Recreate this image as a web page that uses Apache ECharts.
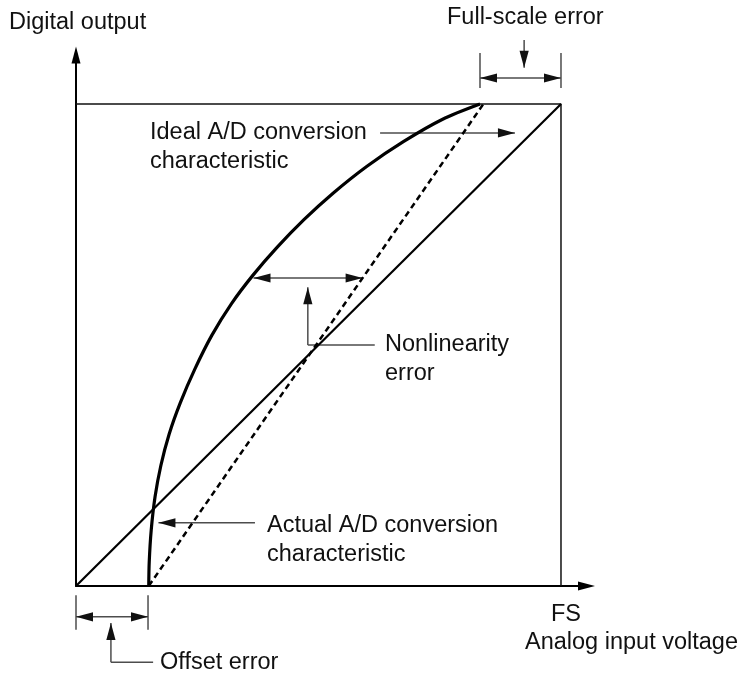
<!DOCTYPE html>
<html>
<head>
<meta charset="utf-8">
<script src="https://cdn.jsdelivr.net/npm/echarts@6/dist/echarts.min.js"></script>
<style>
  html, body { margin: 0; padding: 0; background: #ffffff; }
  #chart { width: 744px; height: 677px; }
</style>
</head>
<body>
<div id="chart"></div>
<script>
// Analog input in percent of full scale (FS = 100), digital output in percent of full code.
const idealInput = [0, 100];
const idealOutput = [0, 100];

// Real converter transfer curve: starts late (offset) and bows upward (nonlinearity)
const actualInput = [15, 15.1, 15.5, 16.3, 17.5, 19.2, 21.5, 24.5, 28.0, 32.0, 36.5, 41.5, 47.0, 53.0, 60.0, 67.5, 75.5, 83.3];
const actualOutput = [0, 5, 11.5, 18.5, 25, 31.5, 38, 45, 52, 58.5, 64.5, 70.3, 76.0, 81.5, 87.1, 92.2, 96.8, 100];

// Straight line through the actual end points
const endPointInput = [15, 84];
const endPointOutput = [0, 100];

// Full-scale frame (top code level and FS input)
const frameInput = [0, 100, 100];
const frameOutput = [100, 100, 0];

const xTickValues = [100];
const xTickLabels = ['FS'];

const zip = (xs, ys) => xs.map((x, i) => [x, ys[i]]);

// Dimension arrows and leader lines: [x1, y1, x2, y2, headAtStart, headAtEnd]
const annotationArrows = [
  [62.7, 94.0, 90.5, 94.0, 0, 1],     // ideal characteristic pointer
  [36.9, 13.1, 17.0, 13.1, 0, 1],     // actual characteristic pointer
  [36.6, 63.9, 59.1, 63.9, 1, 1],     // nonlinearity span
  [47.8, 50.0, 47.8, 62.0, 0, 1],     // nonlinearity leader (up)
  [47.8, 50.0, 61.6, 50.0, 0, 0],     // nonlinearity leader (to text)
  [83.3, 110.6, 83.3, 103.3, 0, 0],   // full-scale extension line
  [100, 110.6, 100, 103.3, 0, 0],     // full-scale extension line
  [83.3, 105.4, 100, 105.4, 1, 1],    // full-scale span
  [92.4, 113.3, 92.4, 107.5, 0, 1],   // full-scale pointer (down)
  [0, -1.9, 0, -9.1, 0, 0],           // offset extension line
  [14.85, -1.9, 14.85, -9.1, 0, 0],   // offset extension line
  [0, -6.4, 14.85, -6.4, 1, 1],       // offset span
  [7.2, -15.8, 7.2, -7.7, 0, 1],      // offset leader (up)
  [7.2, -15.8, 15.9, -15.8, 0, 0]     // offset leader (to text)
];

const FONT = '23.5px "Liberation Sans", Arial, Helvetica, sans-serif';
const TEXT_COLOR = '#111111';

function textBlock(text, x, y) {
  return {
    type: 'text', x: x, y: y, silent: true,
    style: { text: text, fill: TEXT_COLOR, font: FONT, lineHeight: 29, align: 'left', verticalAlign: 'top' }
  };
}

function renderArrow(params, api) {
  const p1 = api.coord([api.value(0), api.value(1)]);
  const p2 = api.coord([api.value(2), api.value(3)]);
  const headStart = api.value(4);
  const headEnd = api.value(5);
  const dx = p2[0] - p1[0], dy = p2[1] - p1[1];
  const len = Math.sqrt(dx * dx + dy * dy) || 1;
  const ux = dx / len, uy = dy / len;
  const HL = 17, HW = 4.6;
  const head = (tip, dirX, dirY) => ({
    type: 'polygon',
    shape: { points: [
      [tip[0], tip[1]],
      [tip[0] - dirX * HL - dirY * HW, tip[1] - dirY * HL + dirX * HW],
      [tip[0] - dirX * HL + dirY * HW, tip[1] - dirY * HL - dirX * HW]
    ] },
    style: { fill: '#111111' }
  });
  const children = [{
    type: 'line',
    shape: { x1: p1[0], y1: p1[1], x2: p2[0], y2: p2[1] },
    style: { stroke: '#4d4d4d', lineWidth: 1.5 }
  }];
  if (headStart) children.push(head(p1, -ux, -uy));
  if (headEnd) children.push(head(p2, ux, uy));
  return { type: 'group', children: children };
}

const chart = echarts.init(document.getElementById('chart'), null, { renderer: 'canvas' });

chart.setOption({
  animation: false,
  backgroundColor: '#ffffff',
  grid: { left: 76, right: 157.5, top: 55, bottom: 91, containLabel: false },
  xAxis: {
    type: 'value', min: 0, max: 105.26, interval: 100,
    splitLine: { show: false }, axisTick: { show: false },
    axisLine: { onZero: false, lineStyle: { color: '#000000', width: 2 }, symbol: ['none', 'triangle'], symbolSize: [9, 17] },
    axisLabel: {
      margin: 17, color: TEXT_COLOR, fontSize: 23.5, fontFamily: '"Liberation Sans", Arial, sans-serif',
      padding: [0, 0, 0, 10],
      formatter: v => { const i = xTickValues.indexOf(v); return i >= 0 ? xTickLabels[i] : ''; }
    }
  },
  yAxis: {
    type: 'value', min: 0, max: 110.17,
    splitLine: { show: false }, axisTick: { show: false }, axisLabel: { show: false },
    axisLine: { onZero: false, lineStyle: { color: '#000000', width: 2 }, symbol: ['none', 'triangle'], symbolSize: [9, 17] }
  },
  series: [
    {
      name: 'Full scale', type: 'line', data: zip(frameInput, frameOutput),
      showSymbol: false, silent: true, lineStyle: { color: '#111111', width: 1.5 }
    },
    {
      name: 'Ideal A/D conversion characteristic', type: 'line', data: zip(idealInput, idealOutput),
      showSymbol: false, silent: true, lineStyle: { color: '#000000', width: 2.2 }
    },
    {
      name: 'End-point line', type: 'line', data: zip(endPointInput, endPointOutput),
      showSymbol: false, silent: true, lineStyle: { color: '#000000', width: 2.5, type: [6, 4] }
    },
    {
      name: 'Actual A/D conversion characteristic', type: 'line', data: zip(actualInput, actualOutput),
      showSymbol: false, silent: true, smooth: 0.3, lineStyle: { color: '#000000', width: 3.2 }
    },
    {
      name: 'Annotations', type: 'custom', silent: true, clip: false,
      renderItem: renderArrow,
      encode: { x: [0, 2], y: [1, 3] },
      data: annotationArrows
    }
  ],
  graphic: [
    textBlock('Digital output', 9, 8),
    textBlock('Full-scale error', 447, 3),
    textBlock('Ideal A/D conversion\ncharacteristic', 150, 118),
    textBlock('Nonlinearity\nerror', 385, 330),
    textBlock('Actual A/D conversion\ncharacteristic', 267, 511),
    textBlock('Analog input voltage', 525, 628),
    textBlock('Offset error', 160, 648)
  ]
});
</script>
</body>
</html>
